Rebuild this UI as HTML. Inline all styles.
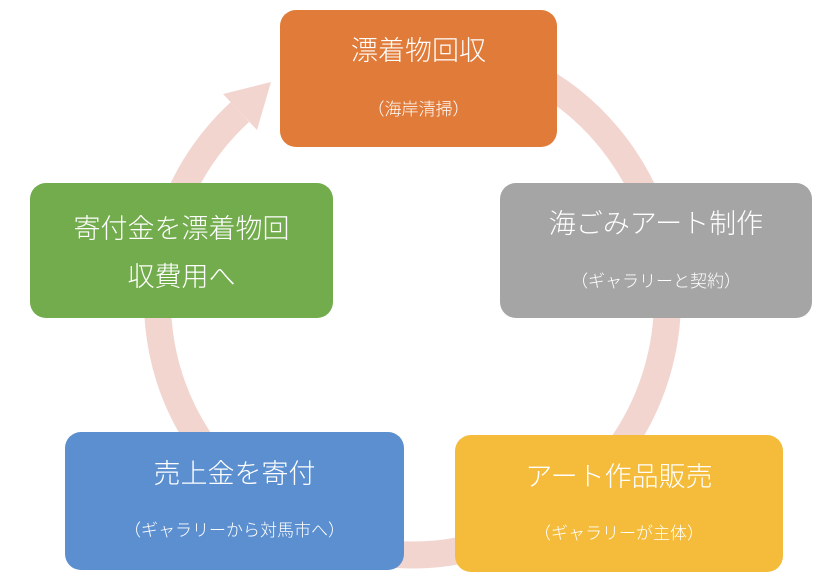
<!DOCTYPE html>
<html><head><meta charset="utf-8"><style>
html,body{margin:0;padding:0;background:#fff;width:840px;height:584px;overflow:hidden;position:relative}
.b{position:absolute;border-radius:16px;color:#fff;font-family:"Noto Sans CJK JP","Liberation Sans",sans-serif;text-align:center;box-sizing:border-box;font-weight:300}
.t{font-size:27px;line-height:34px}
.s{font-size:17px;line-height:22px}
</style></head><body>
<svg width="840" height="584" style="position:absolute;left:0;top:0">
<path d="M419 45 A255 255 0 1 1 240 112" fill="none" stroke="#F3D5D0" stroke-width="27"/>
<polygon points="223,94 257,130 271,82" fill="#F3D5D0"/>
</svg>
<div class="b" style="left:280px;top:10px;width:277px;height:137px;background:#E07B39;padding-top:22px"><div class="t">漂着物回収</div><div class="s" style="margin-top:31px">（海岸清掃）</div></div>
<div class="b" style="left:500px;top:183px;width:312px;height:135px;background:#A5A5A5;padding-top:22px"><div class="t">海ごみアート制作</div><div class="s" style="margin-top:30px">（ギャラリーと契約）</div></div>
<div class="b" style="left:455px;top:435px;width:328px;height:137px;background:#F4BC3A;padding-top:23px"><div class="t">アート作品販売</div><div class="s" style="margin-top:29px">（ギャラリーが主体）</div></div>
<div class="b" style="left:65px;top:432px;width:339px;height:138px;background:#5B8FCF;padding-top:23px"><div class="t">売上金を寄付</div><div class="s" style="margin-top:29px">（ギャラリーから対馬市へ）</div></div>
<div class="b" style="left:30px;top:183px;width:303px;height:135px;background:#72AC4D;padding-top:20px"><div class="t" style="line-height:48px">寄付金を漂着物回<br>収費用へ</div></div>
</body></html>
